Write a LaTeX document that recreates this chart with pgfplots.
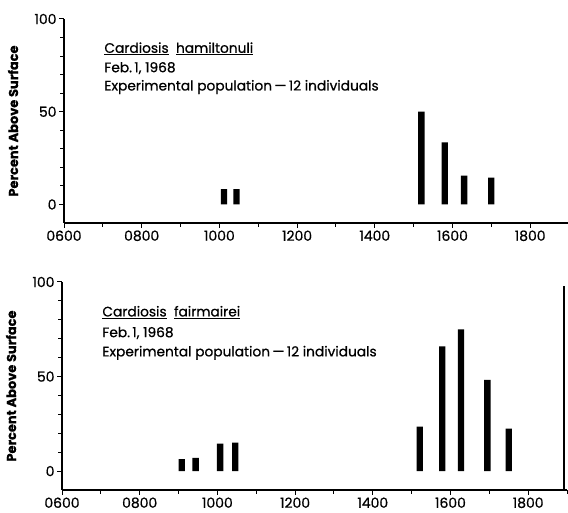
\documentclass[border=0pt]{standalone}
\usepackage{fontspec}
\setmainfont{Poppins}[FakeBold=0.7]
\usepackage{pgfplots}
\pgfplotsset{compat=1.18}

% shared look of both panels
\pgfplotsset{panel/.style={
    scale only axis, width=505bp,
    axis lines=left, axis line style={-, line width=1.1bp},
    xmin=6, xmax=19, ymin=-10, ymax=100,
    enlargelimits=false, clip=false,
    xtick={6,8,...,18},
    xticklabels={0600,0800,1000,1200,1400,1600,1800},
    minor xtick={7,9,...,19},
    ytick={0,50,100}, yticklabels={0,50,100},
    minor ytick={10,20,30,40,60,70,80,90},
    tick align=outside, major tick length=5bp, minor tick length=4bp,
    every tick/.style={black, line width=1bp},
    tick label style={font=\fontsize{14}{16}\selectfont},
    xticklabel style={yshift=1bp},
    yticklabel style={xshift=1bp},
    ylabel={Percent Above Surface},
    ylabel style={at={(axis description cs:-0.101,0.5)}, anchor=center,
      font=\fontsize{13}{15}\selectfont\bfseries},
    ybar, bar width=6.3bp,
  }}

\newcommand{\notefont}{\fontsize{13.8}{16}\selectfont}

\begin{document}
\begin{tikzpicture}[x=1bp,y=1bp]
  \path[use as bounding box] (0,0) rectangle (568,513);

  % upper panel
  \begin{axis}[panel, height=204bp, at={(64bp,290bp)}, anchor=south west]
    \addplot[fill=black, draw=none] coordinates {
      (10.12,8.3) (10.44,8.3) (15.2,50) (15.8,33.5) (16.3,15.5) (17.0,14.5)};
    \node[anchor=west, font=\notefont] at (axis cs:6.95,84)
      {\underline{Cardiosis}\ \ \underline{hamiltonuli}};
    \node[anchor=west, font=\notefont] at (axis cs:6.95,73.5) {Feb.\,1, 1968};
    \node[anchor=west, font=\notefont] at (axis cs:6.95,63.3)
      {Experimental population\,---\,12 individuals};
  \end{axis}

  % lower panel
  \begin{axis}[panel, height=208bp, at={(62bp,23bp)}, anchor=south west]
    \addplot[fill=black, draw=none] coordinates {
      (9.08,6.3) (9.44,7) (10.07,14.5) (10.46,15)
      (15.21,23.5) (15.79,66) (16.27,75) (16.95,48.3) (17.5,22.5)};
    \node[anchor=west, font=\notefont] at (axis cs:6.95,84)
      {\underline{Cardiosis}\ \ \underline{fairmairei}};
    \node[anchor=west, font=\notefont] at (axis cs:6.95,73) {Feb.\,1, 1968};
    \node[anchor=west, font=\notefont] at (axis cs:6.95,62.5)
      {Experimental population\,---\,12 individuals};
    \draw[line width=1.6bp] (axis cs:18.93,-10) -- (axis cs:18.93,98);
  \end{axis}
\end{tikzpicture}
\end{document}
